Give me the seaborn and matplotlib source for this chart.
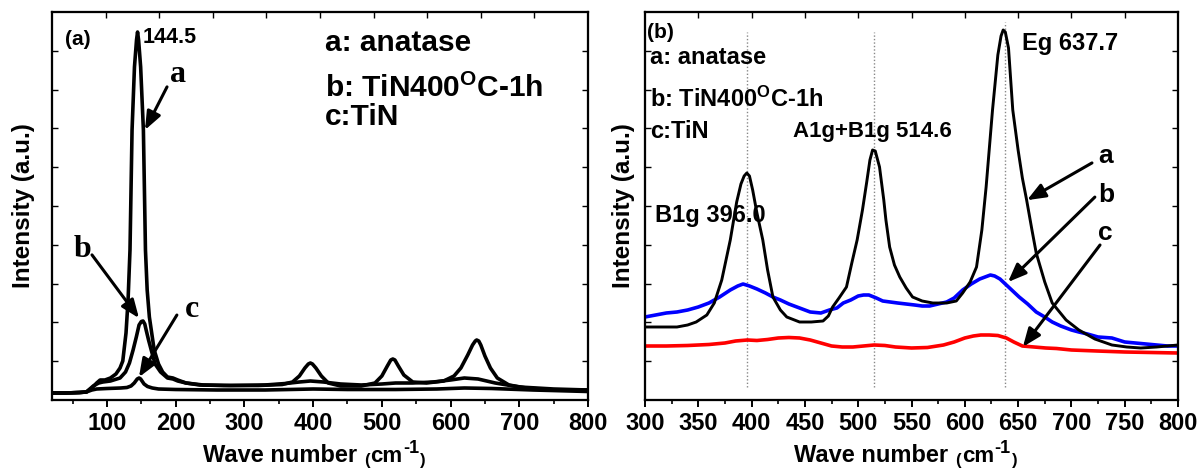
import numpy as np
import pandas as pd
import matplotlib
matplotlib.use("Agg")
import matplotlib.pyplot as plt
from matplotlib.ticker import MultipleLocator
import seaborn as sns

# ---------------- Panel (a): full-range Raman spectra ----------------
a_wn = [20, 40, 60, 70, 78, 85, 90, 97, 105, 113, 119, 123, 127.7, 130.7, 133.5, 136.5, 140, 143,
        144.5, 146, 149, 153, 156, 158.5, 161.7, 168.7, 175, 181, 188, 196, 203, 215, 235, 270,
        320, 355, 370, 380, 388, 393, 396, 399, 404, 412, 422, 440, 470, 490, 500, 508, 513, 516,
        519, 524, 532, 545, 565, 590, 605, 615, 625, 632, 636, 638, 641, 644, 650, 658, 668, 685,
        710, 750, 800]
a_int = [7, 7, 7.5, 8, 12, 17, 20, 20, 22, 26, 32, 39, 67, 100, 150, 270, 333, 360,
         368, 360, 333, 270, 150, 110, 83, 50, 36, 28, 23, 22, 20, 17, 15, 14.5,
         14.5, 15.5, 18, 24, 32, 36, 37, 36, 32, 24, 17, 14, 14, 17, 24, 34, 40, 41,
         40, 34, 25, 18, 17, 19, 24, 32, 45, 55, 59, 60, 59, 55, 44, 32, 22, 15,
         12, 10, 10]

b_wn = [20, 40, 60, 70, 80, 88, 94, 105, 119, 127, 132.7, 138, 142.7, 146.7, 150, 152.5, 155, 157,
        160.5, 164.4, 170, 178, 188, 196, 203, 215, 240, 280, 330, 360, 380, 396, 415, 440, 470,
        500, 520, 545, 575, 600, 620, 640, 665, 700, 750, 800]
b_int = [7, 7, 7.5, 8, 14, 17, 18, 19, 22, 28, 37, 50, 63, 75, 78.5, 79, 76, 70,
         60, 50, 36, 28, 22, 21, 19, 17, 15, 14.5, 15, 16.5, 18, 19, 18, 16, 15,
         16, 17, 17, 18, 20, 22, 21, 17, 13, 11, 10]

c_wn = [20, 40, 60, 70, 78, 85, 100, 120, 129, 135, 139.7, 144, 146.7, 149, 151, 154, 159, 166,
        175, 200, 260, 330, 400, 450, 520, 580, 620, 660, 720, 800]
c_int = [7, 7, 7.5, 8, 10, 11, 11.5, 12, 12.5, 14, 17, 21, 22, 21, 19, 16, 13.5, 12,
         11, 10.5, 10, 10, 11, 10.5, 10.5, 11, 12, 11.5, 10, 8.5]

# ---------------- Panel (b): 300-800 cm-1 detail ----------------
ra_wn = [300, 315, 330, 340, 348, 358, 365, 372, 380, 386, 390, 393, 395.5, 398, 401, 405, 410.5,
         415, 420, 427, 433, 445, 456, 467, 472, 476, 482, 489, 494, 499, 504, 508, 511, 513.5,
         516, 520, 524, 526, 529.5, 534, 539, 545, 551, 560, 570, 583, 592, 598, 605, 611, 616,
         620, 626, 631, 634, 636, 638, 641, 645, 650, 654, 658, 663, 667, 675, 682, 695, 707, 722,
         738, 752, 765, 780, 790, 800]
ra_int = [73, 73, 73, 75, 78, 85, 97, 120, 160, 198, 216, 224, 227, 224, 210, 187, 160,
          130, 103, 90, 83, 78, 78, 79, 84, 93, 102, 113, 137, 160, 190, 218, 240, 250,
          249, 233, 200, 180, 153, 135, 123, 112, 103, 99, 97, 97, 99, 107, 118, 133, 170,
          213, 290, 345, 364, 370, 368, 352, 290, 250, 222, 200, 170, 147, 118, 97, 80, 70, 61,
          55, 53, 52, 53, 54, 55]

rb_wn = [300, 310, 320, 330, 340, 350, 360, 370, 380, 387, 392, 398, 405, 413, 420, 427, 435, 445,
         455, 465, 473, 480, 486, 493, 500, 505, 510, 517, 523, 530, 537, 545, 553, 560, 567, 575,
         583, 590, 598, 606, 614, 619, 624, 628, 633, 640, 646, 651, 659, 667, 675, 682, 690, 700,
         707, 715, 725, 738, 750, 760, 770, 780, 790, 800]
rb_int = [83, 85, 87, 88, 90, 93, 97, 103, 110, 114, 116, 114, 111, 107, 103, 100, 96, 92,
          88, 87, 90, 92, 97, 100, 104, 105, 105, 102, 99, 98, 97, 96, 95, 94, 94, 96,
          98, 102, 110, 116, 121, 123, 125, 124, 121, 114, 108, 103, 96, 88, 83, 78, 74, 70,
          68, 66, 63, 62, 58, 57, 56, 55, 54, 54]

rc_wn = [300, 320, 340, 360, 375, 385, 396, 405, 415, 425, 435, 445, 455, 465, 475, 485, 495, 505,
         515, 525, 535, 550, 565, 580, 590, 600, 608, 615, 623, 631, 639, 646, 654, 665, 676, 686,
         700, 724, 750, 775, 800]
rc_int = [54, 54, 54.5, 55.5, 57, 59, 60, 59.5, 60.5, 62, 62.5, 62, 60, 57, 54, 53, 53, 54,
          55, 54.5, 53, 52, 52.5, 55, 58, 62, 64, 65, 65, 64.5, 62, 58, 54, 53, 52, 51.5,
          50, 49, 48, 47.5, 47]

peak_pos = [396.0, 514.6, 637.7]

# ---------------- style ----------------
sns.set_theme(style="ticks")
plt.rcParams["font.family"] = ["Liberation Sans", "DejaVu Sans"]
plt.rcParams["font.weight"] = "bold"
plt.rcParams["axes.labelweight"] = "bold"
for key in ("text.color", "axes.labelcolor", "xtick.color", "ytick.color", "axes.edgecolor"):
    plt.rcParams[key] = "black"
plt.rcParams["mathtext.fontset"] = "custom"
plt.rcParams["mathtext.rm"] = "Liberation Sans:bold"
plt.rcParams["mathtext.it"] = "Liberation Sans:bold"
plt.rcParams["mathtext.bf"] = "Liberation Sans:bold"
plt.rcParams["mathtext.default"] = "rm"

W, H = 1200, 468
fig = plt.figure(figsize=(12, 4.68), dpi=100)
axL = fig.add_axes([52 / W, 68 / H, 536 / W, 388 / H])
axR = fig.add_axes([645 / W, 68 / H, 533 / W, 388 / H])

dfa = pd.DataFrame({"wn": a_wn, "I": a_int})
dfb = pd.DataFrame({"wn": b_wn, "I": b_int})
dfc = pd.DataFrame({"wn": c_wn, "I": c_int})
for d in (dfa, dfb, dfc):
    sns.lineplot(data=d, x="wn", y="I", ax=axL, color="black", linewidth=2.6)

dra = pd.DataFrame({"wn": ra_wn, "I": ra_int})
drb = pd.DataFrame({"wn": rb_wn, "I": rb_int})
drc = pd.DataFrame({"wn": rc_wn, "I": rc_int})
sns.lineplot(data=drb, x="wn", y="I", ax=axR, color="#0000ff", linewidth=2.6)
sns.lineplot(data=drc, x="wn", y="I", ax=axR, color="#ff0000", linewidth=2.6)
sns.lineplot(data=dra, x="wn", y="I", ax=axR, color="black", linewidth=2.1)

for i, p in enumerate(peak_pos):
    axR.axvline(p, ymin=0.034, ymax=0.975 if i == 2 else 0.948, color="#888888",
                linestyle=(0, (1, 1.5)), linewidth=1.0, zorder=0)


def style_axes(ax, xlim, major, minor, labelpad_y):
    ax.set_xlim(*xlim)
    ax.set_ylim(0, 388)
    ax.xaxis.set_major_locator(MultipleLocator(major))
    ax.xaxis.set_minor_locator(MultipleLocator(minor))
    ax.set_yticks(np.linspace(0, 388, 11)[1:-1])
    ax.tick_params(axis="x", which="major", direction="out", length=5, width=1.4,
                   labelsize=17, pad=4)
    ax.tick_params(axis="x", which="minor", direction="out", length=3, width=1.2)
    ax.tick_params(axis="y", direction="in", length=4, width=1.0, labelleft=False)
    for lab in ax.get_xticklabels():
        lab.set_fontweight("bold")
    for s in ax.spines.values():
        s.set_visible(True)
        s.set_linewidth(1.5)
        s.set_color("black")
    ax.set_ylabel("Intensity (a.u.)", fontsize=17.5, labelpad=labelpad_y)
    ax.set_xlabel("Wave number", fontsize=17, x=0.425, labelpad=6)
    # "(cm-1)" with small parentheses, as in the original
    p1 = ax.annotate("(", xy=(1, 0), xycoords=ax.xaxis.label, xytext=(5, -0.5),
                     textcoords="offset points", ha="left", va="bottom", fontsize=12,
                     fontweight="bold")
    cm = ax.annotate("cm", xy=(1, 0), xycoords=p1, xytext=(0.5, 0.5),
                     textcoords="offset points", ha="left", va="bottom", fontsize=16,
                     fontweight="bold")
    sup = ax.annotate("-1", xy=(1, 0), xycoords=cm, xytext=(0.5, 7),
                      textcoords="offset points", ha="left", va="bottom", fontsize=13,
                      fontweight="bold")
    ax.annotate(")", xy=(1, 0), xycoords=sup, xytext=(0.5, -8),
                textcoords="offset points", ha="left", va="bottom", fontsize=12,
                fontweight="bold")
    # top and right inner ticks
    tx = ax.twiny()
    tx.set_xlim(0, 1)
    tx.set_xticks(np.arange(0.1, 0.95, 0.1))
    tx.tick_params(axis="x", direction="in", length=4, width=1.0, labeltop=False)
    ty = ax.twinx()
    ty.set_ylim(0, 1)
    ty.set_yticks(np.arange(0.1, 0.95, 0.1))
    ty.tick_params(axis="y", direction="in", length=4, width=1.0, labelright=False)
    for t in (tx, ty):
        for s in t.spines.values():
            s.set_linewidth(1.5)
            s.set_color("black")


style_axes(axL, (20, 800), 100, 50, 12)
style_axes(axR, (300, 800), 50, 25, 7.5)

arrow = dict(arrowstyle="-|>,head_length=0.55,head_width=0.22", color="black", lw=2.2,
             shrinkA=0, shrinkB=0, mutation_scale=20)

# ---- panel (a) texts ----
axL.text(0.024, 0.915, "(a)", transform=axL.transAxes, fontsize=15, fontweight="bold")
axL.text(0.170, 0.920, "144.5", transform=axL.transAxes, fontsize=15.5, fontweight="bold")
axL.text(0.509, 0.8995, "a: anatase", transform=axL.transAxes, fontsize=21.5, fontweight="bold")
axL.text(0.509, 0.781, r"b: TiN400$^{\mathrm{O}}$C-1h", transform=axL.transAxes,
         fontsize=21.5, fontweight="bold")
axL.text(0.509, 0.709, "c:TiN", transform=axL.transAxes, fontsize=21.5, fontweight="bold")
serif = ["Liberation Serif", "DejaVu Serif"]
axL.text(0.22, 0.82, "a", transform=axL.transAxes, fontsize=23, fontweight="bold", family=serif)
axL.text(0.04, 0.369, "b", transform=axL.transAxes, fontsize=23, fontweight="bold", family=serif)
axL.text(0.248, 0.214, "c", transform=axL.transAxes, fontsize=23, fontweight="bold", family=serif)
axL.annotate("", xy=(0.1735, 0.696), xytext=(0.2146, 0.807), xycoords="axes fraction", arrowprops=arrow)
axL.annotate("", xy=(0.1623, 0.211), xytext=(0.0746, 0.374), xycoords="axes fraction", arrowprops=arrow)
axL.annotate("", xy=(0.1623, 0.059), xytext=(0.233, 0.219), xycoords="axes fraction", arrowprops=arrow)

# ---- panel (b) texts ----
axR.text(0.004, 0.933, "(b)", transform=axR.transAxes, fontsize=15, fontweight="bold")
axR.text(0.009, 0.866, "a: anatase", transform=axR.transAxes, fontsize=17, fontweight="bold")
axR.text(0.009, 0.755, r"b: TiN400$^{\mathrm{O}}$C-1h", transform=axR.transAxes,
         fontsize=17, fontweight="bold")
axR.text(0.009, 0.675, "c:TiN", transform=axR.transAxes, fontsize=17, fontweight="bold")
axR.text(0.278, 0.678, "A1g+B1g 514.6", transform=axR.transAxes, fontsize=16, fontweight="bold")
axR.text(0.707, 0.902, "Eg 637.7", transform=axR.transAxes, fontsize=17, fontweight="bold")
axR.text(0.019, 0.459, "B1g 396.0", transform=axR.transAxes, fontsize=17, fontweight="bold")
axR.text(0.85, 0.611, "a", transform=axR.transAxes, fontsize=19, fontweight="bold")
axR.text(0.85, 0.510, "b", transform=axR.transAxes, fontsize=19, fontweight="bold")
axR.text(0.85, 0.412, "c", transform=axR.transAxes, fontsize=19, fontweight="bold")
axR.annotate("", xy=(0.7167, 0.515), xytext=(0.8386, 0.611), xycoords="axes fraction", arrowprops=arrow)
axR.annotate("", xy=(0.681, 0.304), xytext=(0.844, 0.523), xycoords="axes fraction", arrowprops=arrow)
axR.annotate("", xy=(0.709, 0.137), xytext=(0.8537, 0.3995), xycoords="axes fraction", arrowprops=arrow)

fig.savefig("out.png", dpi=100)
